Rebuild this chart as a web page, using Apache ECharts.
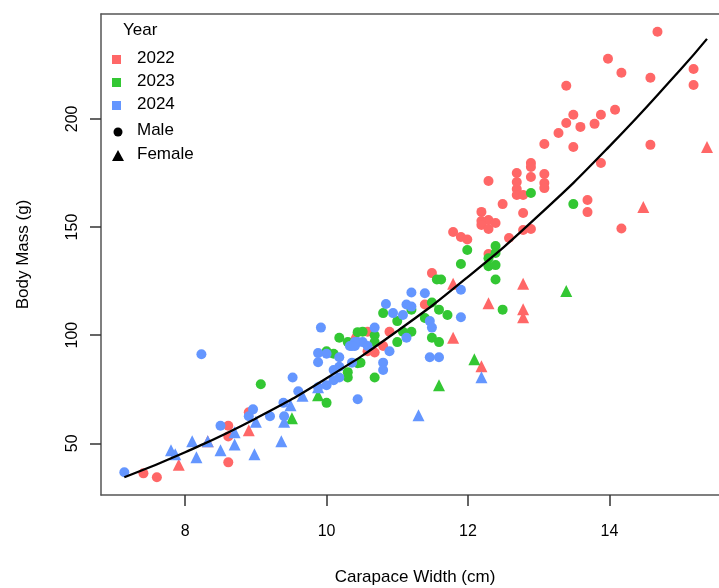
<!DOCTYPE html>
<html>
<head>
<meta charset="utf-8">
<script src="https://cdn.jsdelivr.net/npm/echarts@6/dist/echarts.min.js"></script>
<style>
  html, body { margin: 0; padding: 0; background: #fff; }
  #chart { width: 719px; height: 588px; }
</style>
</head>
<body>
<div id="chart"></div>
<script>
// 数据：[宽度 cm, 体重 g]
const years = ["2022", "2023", "2024"];
const colors = ["#FF6767", "#33C733", "#6496FF"];

const male2022 = [
  [7.41, 36.1], [7.60, 34.3], [8.61, 58.1], [8.61, 53.2], [8.61, 41.2], [8.90, 64.4],
  [10.58, 101.6], [10.89, 101.6], [10.58, 92.6], [10.68, 92.0], [10.80, 95.0],
  [11.39, 114.2], [11.49, 128.7], [11.79, 147.7], [11.90, 145.4], [11.99, 144.2],
  [12.29, 137.5], [12.58, 144.9], [12.78, 148.6], [12.89, 149.1], [12.19, 157.0],
  [12.19, 152.8], [12.29, 153.2], [12.39, 151.9], [12.19, 150.9], [12.29, 149.1],
  [12.78, 156.5], [12.49, 160.6], [12.69, 167.6], [12.69, 164.8], [12.78, 164.8],
  [12.29, 171.3], [12.69, 175.0], [12.69, 170.8], [12.89, 179.6], [12.89, 177.8],
  [12.89, 173.1], [13.08, 174.5], [13.08, 170.4], [13.08, 168.0], [13.08, 188.4],
  [13.28, 193.5], [13.39, 198.1], [13.49, 201.9], [13.59, 196.3], [13.49, 187.0],
  [13.79, 197.7], [13.88, 201.9], [14.08, 204.2], [13.88, 179.6], [13.69, 162.5],
  [13.69, 156.9], [14.17, 149.3], [13.39, 215.3], [13.98, 227.8], [14.17, 221.3],
  [14.58, 219.0], [14.68, 240.3], [15.19, 223.1], [15.19, 215.7], [14.58, 188.0]
];
const female2022 = [
  [7.91, 40.1], [8.32, 51.0], [8.90, 56.0], [10.40, 100.0], [11.79, 123.8],
  [11.79, 98.8], [12.29, 114.8], [12.78, 123.8], [12.78, 112.0], [12.78, 108.3],
  [12.19, 85.6], [14.48, 159.3], [15.38, 187.0]
];
const male2023 = [
  [9.07, 77.3], [10.00, 68.7], [10.10, 91.4], [10.00, 92.6], [10.18, 98.8],
  [10.30, 96.8], [10.44, 101.4], [10.30, 82.9], [10.30, 80.4], [10.44, 87.0],
  [10.51, 101.6], [10.68, 100.0], [10.68, 96.8], [10.68, 80.4], [10.48, 87.3],
  [10.80, 110.2], [11.20, 111.8], [11.00, 106.5], [11.71, 109.3], [11.59, 111.8],
  [11.39, 107.9], [11.49, 115.1], [11.08, 101.6], [11.20, 101.6], [11.00, 96.8],
  [11.49, 98.8], [11.59, 96.8], [11.56, 125.7], [11.62, 125.7], [11.90, 132.9],
  [11.99, 139.4], [12.39, 141.2], [12.39, 138.0], [12.29, 135.6], [12.29, 131.9],
  [12.39, 132.4], [12.39, 125.7], [12.49, 111.8], [12.89, 165.7], [13.49, 160.6]
];
const female2023 = [
  [9.51, 61.6], [9.88, 72.2], [11.59, 76.9], [12.09, 88.9], [13.39, 120.4]
];
const male2024 = [
  [7.14, 36.6], [8.23, 91.2], [8.50, 58.1], [8.96, 65.7], [8.90, 62.5], [9.20, 62.5],
  [9.40, 62.5], [9.39, 68.7], [9.52, 80.4], [9.60, 74.1], [9.88, 91.7], [9.88, 87.5],
  [9.92, 103.5], [10.00, 91.4], [10.18, 89.8], [10.33, 95.0], [10.40, 95.0],
  [10.44, 96.8], [10.18, 85.4], [10.10, 83.9], [10.18, 80.4], [10.00, 76.9],
  [10.10, 79.2], [9.88, 75.9], [10.44, 70.4], [10.51, 96.8], [10.58, 95.0],
  [10.40, 96.8], [10.36, 95.0], [10.36, 87.3], [10.68, 103.5], [10.84, 114.4],
  [11.13, 114.2], [11.20, 113.2], [11.20, 119.7], [11.39, 119.4], [10.94, 110.2],
  [11.08, 109.3], [11.46, 106.5], [11.49, 103.5], [11.90, 121.0], [11.90, 108.3],
  [10.89, 92.6], [11.13, 98.8], [11.46, 89.8], [11.59, 89.8], [10.80, 87.3], [10.80, 83.9]
];
const female2024 = [
  [7.80, 46.8], [7.86, 44.9], [8.10, 51.0], [8.16, 43.5], [8.32, 51.0], [8.50, 46.8],
  [8.70, 55.1], [8.70, 49.5], [9.00, 60.0], [8.98, 44.9], [9.36, 51.0], [9.49, 67.6],
  [9.66, 72.0], [9.40, 60.0], [9.88, 75.9], [11.30, 63.0], [12.19, 80.6]
];

// 拟合曲线
const fitX = [7.14, 8, 9, 10, 11, 12, 13, 14, 15, 15.38];
const fitY = [34.3, 45.9, 61.5, 80.1, 101.9, 127.0, 155.4, 187.3, 222.6, 237.0];

const xTicks = [8, 10, 12, 14];
const yTicks = [50, 100, 150, 200];

const groups = [
  [male2022, female2022],
  [male2023, female2023],
  [male2024, female2024]
];

const myChart = echarts.init(document.getElementById("chart"));

const series = [];
groups.forEach((g, i) => {
  series.push({
    type: "scatter", name: years[i] + " Male", data: g[0],
    symbol: "circle", symbolSize: 10,
    itemStyle: { color: colors[i], opacity: 1 }
  });
  series.push({
    type: "scatter", name: years[i] + " Female", data: g[1],
    symbol: "triangle", symbolSize: 12,
    itemStyle: { color: colors[i], opacity: 1 }
  });
});
series.push({
  type: "line",
  data: fitX.map((x, i) => [x, fitY[i]]),
  smooth: true,
  showSymbol: false,
  lineStyle: { color: "#000", width: 2.3 },
  z: 5
});

const font = "Liberation Sans, Arial, sans-serif";

// 图例（仿 R 风格）
const legendItems = [];
legendItems.push({
  type: "text", left: 123, top: 22,
  style: { text: "Year", font: "17px " + font, fill: "#000" }
});
years.forEach((y, i) => {
  legendItems.push({
    type: "rect", shape: { x: 112, y: 55 + i * 23, width: 9, height: 9 },
    style: { fill: colors[i] }
  });
  legendItems.push({
    type: "text", left: 137, top: 50 + i * 23,
    style: { text: y, font: "17px " + font, fill: "#000" }
  });
});
legendItems.push({
  type: "circle", shape: { cx: 118, cy: 132, r: 4.5 }, style: { fill: "#000" }
});
legendItems.push({
  type: "text", left: 137, top: 122,
  style: { text: "Male", font: "17px " + font, fill: "#000" }
});
legendItems.push({
  type: "polygon", shape: { points: [[118, 150], [112, 161], [124, 161]] },
  style: { fill: "#000" }
});
legendItems.push({
  type: "text", left: 137, top: 146,
  style: { text: "Female", font: "17px " + font, fill: "#000" }
});

const axisLineStyle = { color: "#555", width: 1.5 };

const option = {
  animation: false,
  backgroundColor: "#fff",
  grid: { left: 101, right: 0, top: 14, bottom: 93, outerBoundsMode: "none" },
  xAxis: [
    {
      type: "value",
      min: 6.81, max: 15.55,
      name: "Carapace Width (cm)",
      nameLocation: "middle",
      nameGap: 74,
      nameTextStyle: { fontSize: 17, fontFamily: font, color: "#000", padding: [0, 0, 0, 10] },
      axisLine: { show: true, lineStyle: axisLineStyle },
      axisTick: { show: true, customValues: xTicks, length: 11, lineStyle: { color: "#333", width: 1.5 } },
      axisLabel: { customValues: xTicks, margin: 29, fontSize: 16, fontFamily: font, color: "#000" },
      splitLine: { show: false }
    },
    {
      type: "value",
      position: "top",
      min: 6.81, max: 15.55,
      axisLine: { show: true, onZero: false, lineStyle: axisLineStyle },
      axisTick: { show: false },
      axisLabel: { show: false },
      splitLine: { show: false }
    }
  ],
  yAxis: {
    type: "value",
    min: 26.1, max: 248.5,
    name: "Body Mass (g)",
    nameLocation: "middle",
    nameGap: 69,
    nameTextStyle: { fontSize: 17, fontFamily: font, color: "#000" },
    axisLine: { show: true, lineStyle: axisLineStyle },
    axisTick: { show: true, customValues: yTicks, length: 11, lineStyle: { color: "#333", width: 1.5 } },
    axisLabel: { customValues: yTicks, rotate: 90, margin: 20, fontSize: 16, fontFamily: font, color: "#000" },
    splitLine: { show: false }
  },
  graphic: legendItems,
  series: series
};
myChart.setOption(option);
</script>
</body>
</html>
